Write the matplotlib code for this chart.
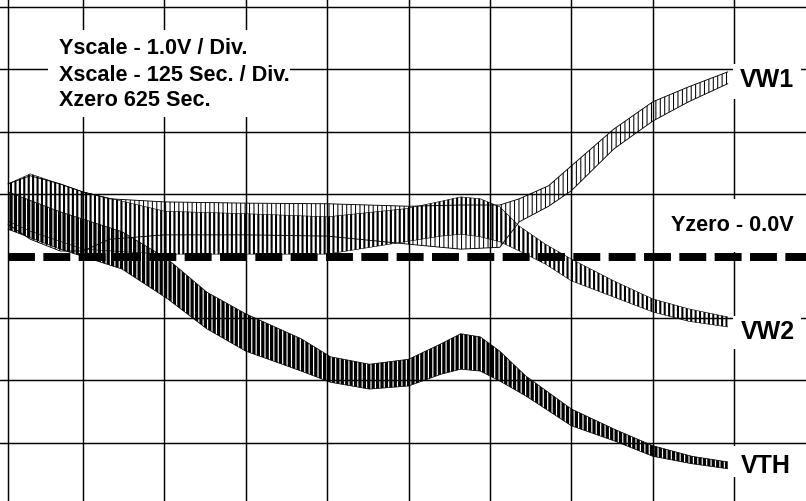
import numpy as np
import matplotlib
matplotlib.use("Agg")
import matplotlib.pyplot as plt
from matplotlib.patches import Rectangle

plt.rcParams['lines.scale_dashes'] = False

# scope settings: 125 s / div on x, 1.0 V / div on y
xgrid = [125, 250, 375, 500, 625, 750, 875, 1000, 1125]
ygrid = [-3, -2, -1, 1, 2, 3]

# envelopes (upper / lower peak) of each trace
vw1_t  = [10, 44, 90, 125, 166, 250, 375, 500, 625, 705, 765, 795, 840, 875, 940, 1000, 1055, 1115]
vw1_hi = [1.16, 1.29, 1.16, 1.03, 0.92, 0.87, 0.85, 0.84, 0.80, 0.82, 0.82, 0.92, 1.13, 1.45, 2.04, 2.48, 2.72, 2.96]
vw1_lo = [0.51, 0.27, 0.08, 0.08, 0.27, 0.34, 0.34, 0.32, 0.19, 0.11, 0.14, 0.55, 0.80, 1.05, 1.72, 2.17, 2.48, 2.77]

vw2_t  = [10, 44, 125, 250, 375, 500, 620, 675, 705, 735, 765, 795, 835, 875, 940, 1000, 1055, 1115]
vw2_hi = [1.16, 1.32, 1.03, 0.72, 0.68, 0.63, 0.76, 0.88, 0.95, 0.92, 0.79, 0.48, 0.19, -0.05, -0.40, -0.69, -0.85, -0.98]
vw2_lo = [0.56, 0.40, 0.11, 0.03, 0.03, 0.03, 0.23, 0.32, 0.35, 0.31, 0.23, 0.08, -0.13, -0.40, -0.66, -0.90, -1.05, -1.14]

vth_t  = [10, 90, 185, 255, 315, 375, 460, 505, 565, 625, 675, 705, 735, 765, 805, 875, 940, 1000, 1060, 1115]
vth_hi = [1.03, 0.71, 0.39, -0.05, -0.58, -0.93, -1.33, -1.62, -1.74, -1.66, -1.41, -1.25, -1.30, -1.53, -1.93, -2.46, -2.78, -3.05, -3.22, -3.31]
vth_lo = [0.43, 0.11, -0.21, -0.69, -1.17, -1.53, -1.85, -2.03, -2.14, -2.09, -1.90, -1.82, -1.85, -2.01, -2.25, -2.73, -2.97, -3.22, -3.34, -3.42]

DPI = 106
W, H = 806, 502
fig = plt.figure(figsize=(W / DPI, H / DPI), dpi=DPI)
fig.patch.set_facecolor("white")
ax = fig.add_axes([0, 0, 1, 1])
ax.axis("off")

def fx(px):
    return px / W

def fy(py):
    return 1 - py / H

# graticule
for t in xgrid:
    ax.axvline(t, color="black", lw=1.0, zorder=1)
for v in ygrid:
    ax.axhline(v, color="black", lw=1.0, zorder=1)
ax.axvline(10, color="black", lw=1.0, zorder=1)
ax.axhline(4, color="black", lw=1.0, zorder=1)

def trace(t, lo, hi, hlw, elw):
    plt.rcParams['hatch.linewidth'] = hlw
    c = ax.fill_between(t, lo, hi, facecolor="none", edgecolor="black",
                        hatch="||||", linewidth=0, zorder=2)
    if hasattr(c, "set_hatch_linewidth"):
        c.set_hatch_linewidth(hlw)
    ax.plot(t, hi, color="black", lw=elw, zorder=2)
    ax.plot(t, lo, color="black", lw=elw, zorder=2)

trace(vw1_t, vw1_lo, vw1_hi, 0.7, 0.6)
trace(vw2_t, vw2_lo, vw2_hi, 1.4, 0.4)
trace(vth_t, vth_lo, vth_hi, 2.2, 0.5)

# Yzero marker
ax.axhline(-0.02, xmin=fx(8), xmax=1, color="black", lw=5.4,
           dashes=(18.3, 5.7), dash_capstyle="butt", zorder=4)

# white patches behind the labels
for x0, y0, x1, y1 in [(48, 31, 290, 118), (733, 65, 801, 100), (664, 200, 801, 253),
                       (733, 317, 801, 350), (733, 447, 801, 478)]:
    ax.add_patch(Rectangle((fx(x0), fy(y1)), (x1 - x0) / W, (y1 - y0) / H,
                           transform=fig.transFigure, facecolor="white",
                           edgecolor="none", zorder=3))

ax.set_xlim(-2.45, 1235.2)
ax.set_ylim(-3.939, 4.132)

font = dict(family="Liberation Sans", fontweight="bold", va="baseline", ha="left", zorder=5)
fig.text(fx(59), fy(54), "Yscale - 1.0V / Div.", fontsize=14.7, **font)
fig.text(fx(59), fy(81), "Xscale - 125 Sec. / Div.", fontsize=14.7, **font)
fig.text(fx(59), fy(106), "Xzero 625 Sec.", fontsize=14.7, **font)
fig.text(fx(671), fy(231), "Yzero - 0.0V", fontsize=14.7, **font)
fig.text(fx(740), fy(87), "VW1", fontsize=17, **font)
fig.text(fx(741), fy(339), "VW2", fontsize=17, **font)
fig.text(fx(741), fy(473), "VTH", fontsize=17, **font)

fig.savefig("out.png", dpi=DPI, facecolor="white")
